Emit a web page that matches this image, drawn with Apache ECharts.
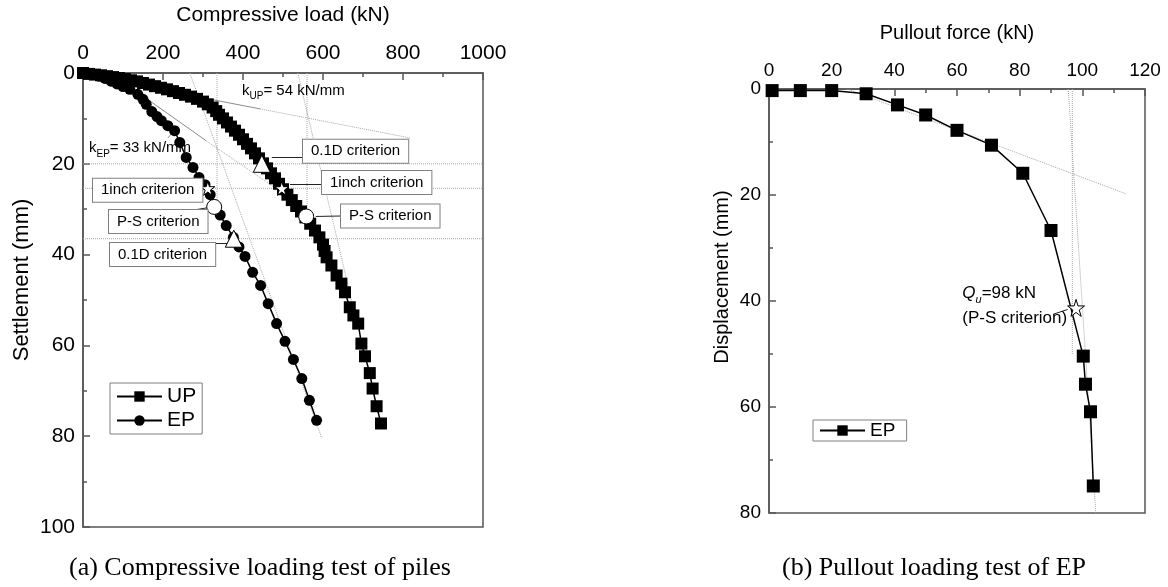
<!DOCTYPE html>
<html>
<head>
<meta charset="utf-8">
<script src="https://cdn.jsdelivr.net/npm/echarts@6/dist/echarts.min.js"></script>
<style>
  html, body { margin: 0; padding: 0; background: #fff; }
  #main { width: 1168px; height: 587px; }
</style>
</head>
<body>
<div id="main"></div>
<script>
// ---------- (a) compressive loading test ----------
const loadTicks = [0, 200, 400, 600, 800, 1000];          // kN
const settleTicks = [0, 20, 40, 60, 80, 100];              // mm

const upLoad = [0, 15, 30, 45, 60, 75, 90, 105, 120, 135, 150, 165, 180, 195, 210, 225, 240, 255, 270, 285,
  300, 312, 324, 333, 340, 350, 360, 370, 380, 390, 400, 410, 420, 430, 440, 450, 460, 470, 480, 490,
  500, 511, 522, 533, 545, 556, 568, 580, 591, 600, 604, 609, 621, 634, 646, 655, 667, 676, 688, 696,
  705, 717, 724, 734, 745];
const upSettle = [0, 0.2, 0.35, 0.5, 0.7, 0.9, 1.1, 1.35, 1.6, 1.85, 2.2, 2.55, 2.9, 3.25, 3.6, 4.0, 4.4, 4.8, 5.2, 5.7,
  6.3, 6.9, 7.6, 8.4, 9.2, 10.0, 10.9, 11.8, 12.7, 13.6, 14.6, 15.6, 16.6, 17.7, 18.8, 19.9, 21.0, 22.1, 23.2, 24.4,
  25.6, 26.8, 28.0, 29.3, 30.5, 31.8, 33.2, 34.7, 36.2, 37.8, 39.2, 40.6, 42.4, 44.6, 46.4, 48.3, 51.6, 53.4, 55.2, 59.6,
  62.4, 66.1, 69.5, 73.4, 77.2];

const epLoad = [0, 20, 40, 55, 70, 85, 100, 117, 137, 150, 158, 172, 185, 196, 212, 229, 242, 258, 275, 290,
  305, 318, 330, 343, 358, 376, 390, 405, 424, 444, 463, 484, 505, 526, 547, 566, 584];
const epSettle = [0, 0.3, 0.7, 1.2, 1.8, 2.4, 3.0, 3.6, 4.7, 5.8, 6.9, 8.5, 9.6, 10.5, 11.6, 12.7, 15.3, 18.6, 20.8, 23.0,
  24.6, 26.8, 29.3, 31.3, 33.6, 36.2, 38.3, 40.4, 43.9, 46.8, 50.8, 55.2, 59.1, 63.1, 67.3, 72.1, 76.5];

// capacity criteria: 0.1D, 1 inch, P-S
const critNames = ['0.1D criterion', '1inch criterion', 'P-S criterion'];
const upCritLoad = [447, 497, 558];
const upCritSettle = [20, 25.4, 31.6];
const epCritLoad = [377, 312, 328];
const epCritSettle = [36.5, 25.4, 29.5];
const kUP = 54;   // kN/mm
const kEP = 33;   // kN/mm

// ---------- (b) pullout loading test ----------
const forceTicks = [0, 20, 40, 60, 80, 100, 120];         // kN
const dispTicks = [0, 20, 40, 60, 80];                     // mm
const pullForce = [1, 10, 20, 31, 41, 50, 60, 71, 81, 90, 100.3, 101, 102.6, 103.5];
const pullDisp = [0.3, 0.3, 0.3, 0.9, 3.0, 4.9, 7.8, 10.6, 15.9, 26.7, 50.4, 55.7, 60.9, 74.9];
const quForce = 98;   // kN
const quDisp = 41.3;  // mm

// construction lines (end points in axis units)
const guidesA = {
  dotted: [
    [[442.5, 7.9], [817.5, 14.3]],
    [[307.5, 14.9], [492, 26]],
    [[267, 0], [597, 80.4]],
    [[537, 0], [672.5, 50.5]],
    [[335, 0], [335, 29.5]],
    [[560, 0], [560, 31.6]],
    [[0, 20], [1000, 20]],
    [[0, 25.4], [1000, 25.4]],
    [[0, 36.5], [1000, 36.5]]
  ],
  solid: [
    [[275, 5.05], [442.5, 7.9]],
    [[132.5, 4.0], [307.5, 14.9]],
    [[212.5, 14.3], [237.5, 11.6]]
  ]
};
const guidesB = {
  dotted: [
    [[25, 0], [114, 19.8]],
    [[96.8, 0], [96.8, 50]],
    [[95.5, 0], [104.3, 80]]
  ]
};

const SANS = '"Liberation Sans", Arial, sans-serif';
const AXIS = '#555';
const STAR = 'path://M50,0 L61,35 L98,35 L68,57 L79,91 L50,70 L21,91 L32,57 L2,35 L39,35 Z';

const zip = (a, b) => a.map((v, i) => [v, b[i]]);

function guideSeries(gi, segs, dotted) {
  return segs.map(seg => ({
    type: 'line', xAxisIndex: gi, yAxisIndex: gi, data: seg, symbol: 'none', silent: true, z: 1,
    lineStyle: { color: dotted ? '#a6a6a6' : '#8c8c8c', width: 1, type: dotted ? 'dotted' : 'solid' }
  }));
}

function valueAxisX(gi, ticks, fontSize) {
  return {
    type: 'value', gridIndex: gi, position: 'top',
    min: ticks[0], max: ticks[ticks.length - 1], interval: ticks[1] - ticks[0],
    axisLine: { show: true, lineStyle: { color: AXIS, width: 1.5 } },
    axisTick: { show: true, inside: true, length: 7, lineStyle: { color: AXIS, width: 1.5 } },
    minorTick: { show: true, splitNumber: 2, length: 4, lineStyle: { color: AXIS, width: 1.5 } },
    axisLabel: { color: '#000', fontSize: fontSize, fontFamily: SANS, margin: 9, formatter: v => String(v) },
    splitLine: { show: false }
  };
}
function valueAxisY(gi, ticks, fontSize) {
  return {
    type: 'value', gridIndex: gi, inverse: true,
    min: ticks[0], max: ticks[ticks.length - 1], interval: ticks[1] - ticks[0],
    axisLine: { show: true, lineStyle: { color: AXIS, width: 1.5 } },
    axisTick: { show: true, inside: true, length: 7, lineStyle: { color: AXIS, width: 1.5 } },
    minorTick: { show: true, splitNumber: 2, length: 4, lineStyle: { color: AXIS, width: 1.5 } },
    axisLabel: { color: '#000', fontSize: fontSize, fontFamily: SANS, margin: 8, formatter: v => String(v) },
    splitLine: { show: false }
  };
}

const arrowStyle = { color: '#222', width: 1, type: 'solid' };
const openMarker = { color: '#fff', borderColor: '#000', borderWidth: 1, opacity: 1 };

const chart = echarts.init(document.getElementById('main'));

chart.setOption({
  animation: false,
  backgroundColor: '#fff',
  grid: [
    { left: 83, top: 73, width: 400, height: 454, show: true, borderColor: AXIS, borderWidth: 1.5 },
    { left: 769, top: 89, width: 376, height: 424, show: true, borderColor: AXIS, borderWidth: 1.5 }
  ],
  xAxis: [valueAxisX(0, loadTicks, 21), valueAxisX(1, forceTicks, 19)],
  yAxis: [valueAxisY(0, settleTicks, 21), valueAxisY(1, dispTicks, 19)],
  legend: [
    {
      data: ['UP', 'EP'], left: 110, top: 383, orient: 'vertical', selectedMode: false,
      itemWidth: 45, itemHeight: 13, itemGap: 3, padding: [3, 6, 3, 6],
      borderColor: '#808080', borderWidth: 1, backgroundColor: '#fff',
      textStyle: { color: '#000', fontSize: 21, fontFamily: SANS }
    },
    {
      data: ['EP '], left: 813, top: 420, selectedMode: false,
      itemWidth: 45, itemHeight: 13, padding: [1, 6, 1, 6],
      borderColor: '#808080', borderWidth: 1, backgroundColor: '#fff',
      textStyle: { color: '#000', fontSize: 19, fontFamily: SANS }
    }
  ],
  series: [
    ...guideSeries(0, guidesA.dotted, true),
    ...guideSeries(0, guidesA.solid, false),
    ...guideSeries(1, guidesB.dotted, true),
    {
      name: 'UP', type: 'line', xAxisIndex: 0, yAxisIndex: 0, data: zip(upLoad, upSettle),
      symbol: 'rect', symbolSize: 12, showAllSymbol: true, z: 3,
      itemStyle: { color: '#000' }, lineStyle: { color: '#000', width: 1.5 }
    },
    {
      name: 'EP', type: 'line', xAxisIndex: 0, yAxisIndex: 0, data: zip(epLoad, epSettle),
      symbol: 'circle', symbolSize: 11, showAllSymbol: true, z: 3,
      itemStyle: { color: '#000' }, lineStyle: { color: '#000', width: 1.5 }
    },
    {
      name: 'criteria', type: 'scatter', xAxisIndex: 0, yAxisIndex: 0, z: 5,
      data: [
        { value: [upCritLoad[0], upCritSettle[0]], symbol: 'triangle', symbolSize: 17 },
        { value: [upCritLoad[1], upCritSettle[1]], symbol: STAR, symbolSize: 14 },
        { value: [upCritLoad[2], upCritSettle[2]], symbol: 'circle', symbolSize: 15 },
        { value: [epCritLoad[0], epCritSettle[0]], symbol: 'triangle', symbolSize: 17 },
        { value: [epCritLoad[1], epCritSettle[1]], symbol: STAR, symbolSize: 14 },
        { value: [epCritLoad[2], epCritSettle[2]], symbol: 'circle', symbolSize: 15 }
      ],
      itemStyle: openMarker,
      markLine: {
        silent: true, symbol: ['none', 'arrow'], symbolSize: [0, 7],
        label: { show: false }, lineStyle: arrowStyle,
        data: [
          [{ coord: [550, 18.5] }, { coord: [472, 18.5] }],
          [{ coord: [597.5, 24.4] }, { coord: [517.5, 24.4] }],
          [{ coord: [645, 31.5] }, { coord: [582, 31.6] }],
          [{ coord: [235, 30.8] }, { coord: [310, 29.7] }],
          [{ coord: [367.5, 37.6] }, { coord: [332.5, 37.6] }]
        ]
      }
    },
    {
      name: 'EP ', type: 'line', xAxisIndex: 1, yAxisIndex: 1, data: zip(pullForce, pullDisp),
      symbol: 'rect', symbolSize: 13, showAllSymbol: true, z: 3,
      itemStyle: { color: '#000' }, lineStyle: { color: '#000', width: 1.5 }
    },
    {
      name: 'Qu', type: 'scatter', xAxisIndex: 1, yAxisIndex: 1, z: 5,
      data: [{ value: [quForce, quDisp], symbol: STAR, symbolSize: 17 }],
      itemStyle: openMarker,
      markLine: {
        silent: true, symbol: ['none', 'arrow'], symbolSize: [0, 6],
        label: { show: false }, lineStyle: arrowStyle,
        data: [[{ coord: [90.7, 42.5] }, { coord: [95.3, 41.6] }]]
      }
    }
  ]
});

// ---------- text annotations, placed in axis units ----------
const toPx = (gi, pt) => chart.convertToPixel({ gridIndex: gi }, pt);

function boxText(gi, pt, text) {
  const p = toPx(gi, pt);
  return {
    type: 'text', x: p[0], y: p[1], z: 20,
    style: {
      text: text, font: '15px ' + SANS, fill: '#000',
      align: 'left', verticalAlign: 'middle', textAlign: 'left', textVerticalAlign: 'middle',
      backgroundColor: '#fff', borderColor: '#808080', borderWidth: 1, padding: [4, 8, 4, 8]
    }
  };
}
function plainText(gi, pt, text, extra) {
  const p = toPx(gi, pt);
  return {
    type: 'text', x: p[0], y: p[1], z: 20,
    style: Object.assign({
      text: text, font: '15px ' + SANS, fill: '#000',
      align: 'left', verticalAlign: 'middle', textAlign: 'left', textVerticalAlign: 'middle'
    }, extra || {})
  };
}
const subRich = {
  b: { fontSize: 15, fontFamily: SANS, lineHeight: 22, verticalAlign: 'middle', fill: '#000' },
  s: { fontSize: 10, fontFamily: SANS, lineHeight: 12, verticalAlign: 'bottom', fill: '#000' },
  bi: { fontSize: 17, fontFamily: SANS, fontStyle: 'italic', lineHeight: 24, verticalAlign: 'middle', fill: '#000' },
  si: { fontSize: 11, fontFamily: SANS, fontStyle: 'italic', lineHeight: 13, verticalAlign: 'bottom', fill: '#000' },
  b17: { fontSize: 17, fontFamily: SANS, lineHeight: 24, verticalAlign: 'middle', fill: '#000' }
};

const centered = { align: 'center', verticalAlign: 'middle', textAlign: 'center', textVerticalAlign: 'middle', fill: '#000' };
const SERIF = '26px "Liberation Serif", "Times New Roman", serif';

const graphics = [
  boxText(0, [550, 17.25], critNames[0]),
  boxText(0, [597.5, 24.1], critNames[1]),
  boxText(0, [645, 31.5], critNames[2]),
  boxText(0, [25, 25.8], critNames[1]),
  boxText(0, [65, 32.7], critNames[2]),
  boxText(0, [67.5, 40], critNames[0]),
  plainText(0, [397.5, 3.9], '{b|k}{s|UP}{b|= ' + kUP + ' kN/mm}', { rich: subRich }),
  plainText(0, [15, 16.5], '{b|k}{s|EP}{b|= ' + kEP + ' kN/mm}', { rich: subRich }),
  plainText(1, [61.7, 38.5], '{bi|Q}{si|u}{b17|=' + quForce + ' kN}', { rich: subRich }),
  plainText(1, [61.7, 43.2], '(P-S criterion)', { font: '17px ' + SANS }),
  // axis titles
  { type: 'text', x: 283, y: 15, z: 20, style: Object.assign({ text: 'Compressive load (kN)', font: '21px ' + SANS }, centered) },
  { type: 'text', x: 957, y: 33, z: 20, style: Object.assign({ text: 'Pullout force (kN)', font: '20px ' + SANS }, centered) },
  { type: 'text', x: 22, y: 280, rotation: Math.PI / 2, z: 20, style: Object.assign({ text: 'Settlement (mm)', font: '22px ' + SANS }, centered) },
  { type: 'text', x: 722, y: 277, rotation: Math.PI / 2, z: 20, style: Object.assign({ text: 'Displacement (mm)', font: '20px ' + SANS }, centered) },
  // panel captions
  { type: 'text', x: 260, y: 568, z: 20, style: Object.assign({ text: '(a) Compressive loading test of piles', font: SERIF }, centered) },
  { type: 'text', x: 934, y: 568, z: 20, style: Object.assign({ text: '(b) Pullout loading test of EP', font: SERIF }, centered) }
];

chart.setOption({ graphic: graphics });
</script>
</body>
</html>
